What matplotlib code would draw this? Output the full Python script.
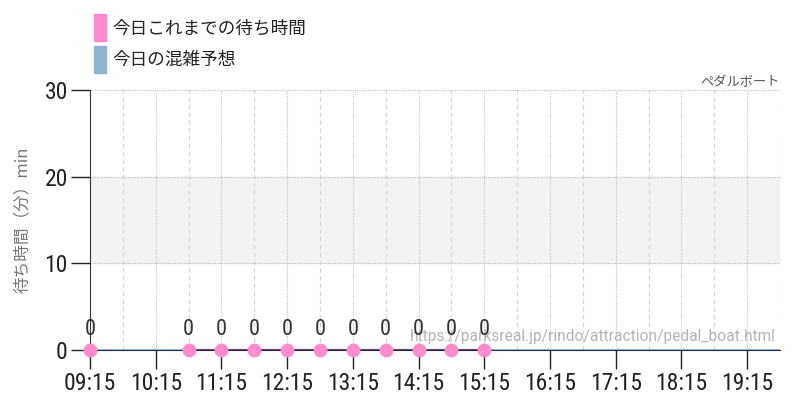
import matplotlib
matplotlib.use("Agg")
import matplotlib.pyplot as plt
from matplotlib.patches import Patch
from matplotlib import font_manager
import numpy as np

plt.rcParams['font.family'] = ['Noto Sans CJK JP', 'DejaVu Sans']

# data (minutes from midnight)
def hm(s):
    h, m = s.split(":")
    return int(h) * 60 + int(m)

wait_times = ["09:15", "09:45", "10:15", "10:45", "11:15", "11:45", "12:15",
              "12:45", "13:15", "13:45", "14:15", "14:45", "15:15"]
wait_vals = [0, np.nan, np.nan, 0, 0, 0, 0, 0, 0, 0, 0, 0, 0]

fc_times = ["09:15", "10:15", "11:15", "12:15", "13:15", "14:15", "15:15",
            "16:15", "17:15", "18:15", "19:15", "19:45"]
fc_vals = [0, 0, 0, 0, 0, 0, 0, 0, 0, 0, 0, 0]

tick_labels = ["09:15", "10:15", "11:15", "12:15", "13:15", "14:15",
               "15:15", "16:15", "17:15", "18:15", "19:15"]
half_labels = ["09:45", "10:45", "11:45", "12:45", "13:45", "14:45",
               "15:45", "16:45", "17:45", "18:45", "19:45"]

title = "ペダルボート"
url = "https://parksreal.jp/rindo/attraction/pedal_boat.html"

pink = "#ff8ccc"
blue = "#8fb3d1"

# look for a narrow face for the numbers
names = {f.name for f in font_manager.fontManager.ttflist}
narrow = "DejaVu Sans"
for cand in ["Roboto Condensed", "Liberation Sans Narrow", "Open Sans Condensed",
             "Noto Sans Condensed", "DejaVu Sans Condensed"]:
    if cand in names:
        narrow = cand
        break
num_font = dict(family=narrow)

fig = plt.figure(figsize=(8, 4), dpi=100)
ax = fig.add_axes([0.1125, 0.125, 0.8625, 0.65])

wx = [hm(t) for t in wait_times]
fx = [hm(t) for t in fc_times]

ax.set_xlim(hm("09:15"), hm("19:45"))
ax.set_ylim(0, 30)

ax.axhspan(10, 20, color="#f2f2f2", zorder=0)

for t in half_labels:
    ax.axvline(hm(t), color="#d4d4d4", lw=0.8, ls=(0, (4, 3)), zorder=1)
for t in tick_labels[1:]:
    ax.axvline(hm(t), color="#c8c8c8", lw=0.8, ls=(0, (1, 1)), zorder=1)
for v in [10, 20, 30]:
    ax.axhline(v, color="#c0c0c0", lw=0.8, ls=(0, (1, 1)), zorder=1)

ax.plot(fx, fc_vals, color=blue, lw=1.5, zorder=3)
ax.plot(wx, wait_vals, color="#7a3a6a", lw=1.5, zorder=4)
ax.scatter(wx, wait_vals, s=80, color=pink, zorder=5, clip_on=False)

ax.text(0.994, 0.022, url, transform=ax.transAxes, color="#b4b4b4",
        fontsize=11.2, ha="right", va="bottom", family="Roboto", zorder=4)

for x, v in zip(wx, wait_vals):
    if not np.isnan(v):
        ax.text(x, v + 1.2, str(int(v)), ha="center", va="bottom",
                fontsize=16, color="#333333", zorder=6, **num_font)

ax.set_xticks([hm(t) for t in tick_labels])
ax.set_xticklabels(tick_labels, **num_font)
ax.set_yticks([0, 10, 20, 30])
ax.set_yticklabels(["0", "10", "20", "30"], **num_font)
ax.tick_params(axis="both", labelsize=17, colors="#222222", length=14,
               width=1, pad=2)
for tl in ax.get_xticklines() + ax.get_yticklines():
    tl.set_color("#c8c8c8")

for s in ["top", "right"]:
    ax.spines[s].set_visible(False)
ax.spines["left"].set_color("#333333")
ax.spines["bottom"].set_color("#1f2d4a")
ax.spines["left"].set_zorder(2)

ax.set_ylabel("待ち時間（分）min", color="#777777", fontsize=12, labelpad=10)
ax.set_title(title, loc="right", color="#555555", fontsize=9.5, pad=3)

handles = [Patch(color=pink, label="今日これまでの待ち時間"),
           Patch(color=blue, label="今日の混雑予想")]
fig.legend(handles=handles, loc="upper left", bbox_to_anchor=(0.118, 0.965),
           frameon=False, fontsize=12.7, handlelength=0.65, handleheight=2.0,
           handletextpad=0.35, labelspacing=0.25, borderaxespad=0, borderpad=0,
           labelcolor="#222222")

fig.savefig("out.png", dpi=100)
